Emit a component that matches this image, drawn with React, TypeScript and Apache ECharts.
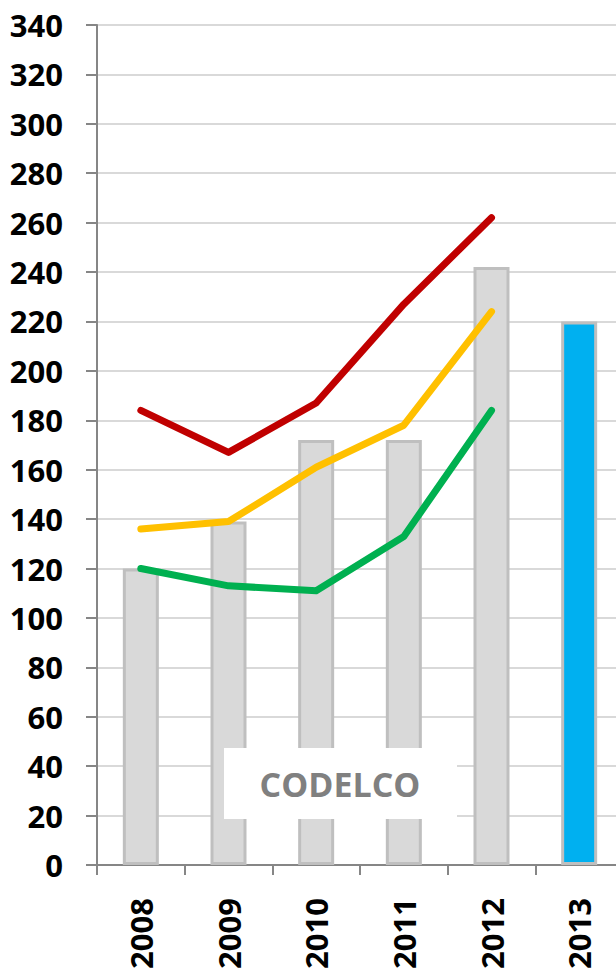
import React, { useEffect, useRef } from "react";
import * as echarts from "echarts";

const years = ["2008", "2009", "2010", "2011", "2012", "2013"];
const barValues = [120, 139, 172, 172, 242, 220];
const redLine = [184, 167, 187, 227, 262, null];
const yellowLine = [136, 139, 161, 178, 224, null];
const greenLine = [120, 113, 111, 133, 184, null];
const boxLabel = "CODELCO";

const FONT = "'Open Sans', 'DejaVu Sans', sans-serif";

export default function App() {
  const ref = useRef<HTMLDivElement>(null);
  useEffect(() => {
    if (!ref.current) return;
    const chart = echarts.init(ref.current, undefined, { renderer: "svg" });
    const lineSeries = (data: (number | null)[], color: string) => ({
      type: "line",
      data,
      symbol: "none",
      z: 5,
      lineStyle: { color, width: 7, cap: "round", join: "round" },
    });
    chart.setOption({
      animation: false,
      backgroundColor: "#ffffff",
      grid: { left: 97, top: 25, right: 17, bottom: 107, containLabel: false },
      xAxis: {
        type: "category",
        data: years,
        boundaryGap: true,
        axisLine: { lineStyle: { color: "#868686", width: 2 } },
        axisTick: { show: true, length: 10, lineStyle: { color: "#868686", width: 2 } },
        axisLabel: {
          rotate: 90,
          margin: 33,
          color: "#000000",
          fontWeight: "bold",
          fontSize: 31,
          fontFamily: FONT,
        },
      },
      yAxis: {
        type: "value",
        min: 0,
        max: 340,
        interval: 20,
        axisLine: { show: true, lineStyle: { color: "#868686", width: 2 } },
        axisTick: { show: true, length: 11, lineStyle: { color: "#868686", width: 2 } },
        splitLine: { show: true, lineStyle: { color: "#d9d9d9", width: 2 } },
        axisLabel: {
          margin: 34,
          color: "#000000",
          fontWeight: "bold",
          fontSize: 31,
          fontFamily: FONT,
        },
      },
      series: [
        {
          type: "bar",
          barWidth: 36,
          z: 2,
          data: barValues.map((v, i) => ({
            value: v,
            itemStyle:
              i === barValues.length - 1
                ? { color: "#00b0f0", borderColor: "#bfbfbf", borderWidth: 3 }
                : { color: "#d9d9d9", borderColor: "#bfbfbf", borderWidth: 3 },
          })),
        },
        lineSeries(redLine, "#c00000"),
        lineSeries(yellowLine, "#ffc000"),
        lineSeries(greenLine, "#00b050"),
      ],
      graphic: [
        {
          type: "rect",
          z: 100,
          shape: { x: 224, y: 748, width: 233, height: 71 },
          style: { fill: "#ffffff" },
        },
        {
          type: "text",
          z: 101,
          x: 340,
          y: 784,
          style: {
            text: boxLabel,
            fill: "#808080",
            font: `bold 34px ${FONT}`,
            align: "center",
            verticalAlign: "middle",
          },
        },
      ],
    });
    return () => chart.dispose();
  }, []);
  return (
    <div
      ref={ref}
      style={{ position: "fixed", left: 0, top: 0, width: 640, height: 972 }}
    />
  );
}
